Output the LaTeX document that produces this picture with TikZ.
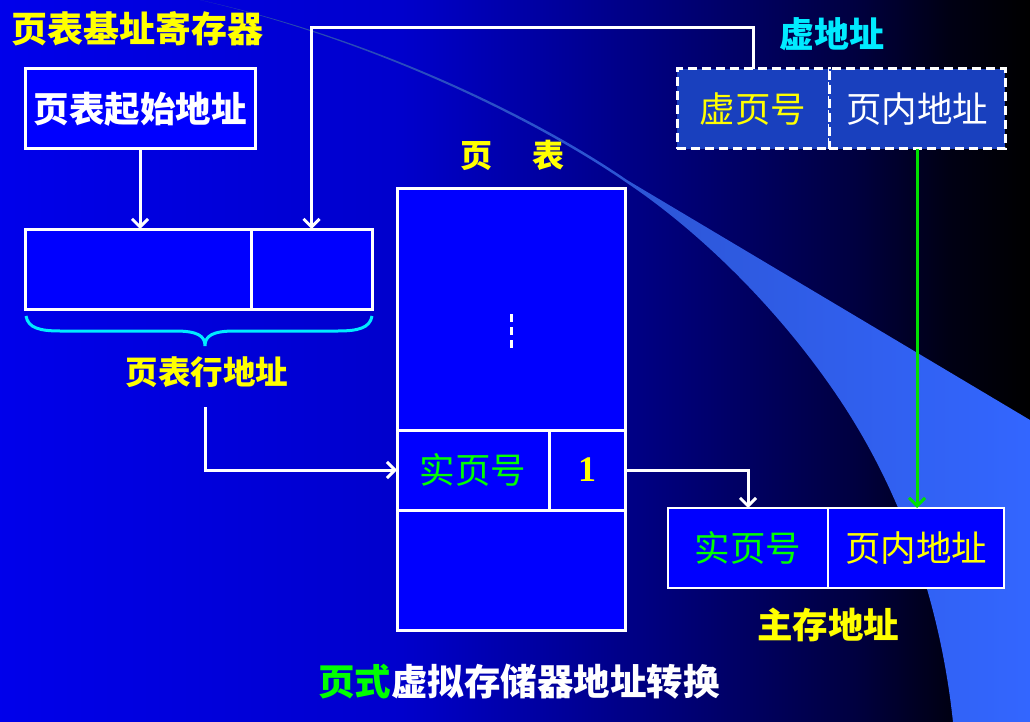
\documentclass[tikz,border=0pt]{standalone}
\usepackage{fontspec}
\newfontfamily\cjk{Noto Sans CJK SC}
\newfontfamily\serifn{Liberation Serif}
\usetikzlibrary{arrows.meta}
\definecolor{cellblue}{RGB}{0,0,255}
\definecolor{vblue}{RGB}{25,64,190}
\definecolor{ylw}{RGB}{255,255,0}
\definecolor{cyn}{RGB}{0,235,255}
\definecolor{grn}{RGB}{0,255,0}
\definecolor{grnline}{RGB}{0,225,0}
\definecolor{swA}{RGB}{38,68,168}
\definecolor{swB}{RGB}{51,102,255}
\pgfdeclarehorizontalshading{bgsh}{100bp}{rgb(0bp)=(0,0,0.92); rgb(25bp)=(0,0,0.92); rgb(44.5bp)=(0,0,0.8); rgb(56.5bp)=(0,0,0.5); rgb(66.5bp)=(0,0,0.25); rgb(71bp)=(0,0,0.08); rgb(75bp)=(0,0,0); rgb(100bp)=(0,0,0)}
\tikzset{
  boldtxt/.style={font=\cjk\bfseries\fontsize{#1}{#1}\selectfont, inner sep=0pt},
  thintxt/.style={font=\cjk\fontsize{35.5}{35.5}\selectfont},
  cell/.style={draw=white, line width=3pt, fill=cellblue, inner sep=0pt, outer sep=0pt},
  vcell/.style={draw=white, line width=3pt, dash pattern=on 9pt off 5pt, fill=vblue, inner sep=0pt, outer sep=0pt},
  mcell/.style={draw=white, line width=1.5pt, fill=cellblue, inner sep=0pt, outer sep=0pt},
  wline/.style={draw=white, line width=3pt},
  gline/.style={draw=grnline, line width=3pt},
  arw/.style={-{Straight Barb[length=8pt,width=16pt]}}
}
\begin{document}
\begin{tikzpicture}[x=1pt,y=-1pt]
\useasboundingbox (0,0) rectangle (1030,722);
\shade[shading=bgsh] (0,0) rectangle (1030,722);
\shade[left color=swA, right color=swB]
  (200,0) .. controls (380,40) and (540,120) .. (627,180)
  -- (1030,420) -- (1030,722) -- (953,722)
  .. controls (940,600) and (900,490) .. (840,400)
  .. controls (780,310) and (700,232) .. (627,183)
  .. controls (540,123) and (380,42) .. (200,0)
  -- cycle;

% page table base register
\node[boldtxt=36, text=ylw] (title) at (137,29) {页表基址寄存器};
\node[cell, minimum width=230, minimum height=80, boldtxt=35.5, text=white] (base) at (140,109) {页表起始地址};
\node[cell, minimum width=226, minimum height=80] (rowL) at (138,269) {};
\node[cell, minimum width=121, minimum height=80] (rowR) at (311.5,269) {};
\draw[cyn, line width=3pt] (26,316) .. controls (28,328) and (40,331) .. (60,331) -- (175,331)
  .. controls (198,331) and (205,336) .. (205,346)
  .. controls (205,336) and (212,331) .. (235,331) -- (338,331)
  .. controls (358,331) and (370,328) .. (372,316);
\node[boldtxt=32.5, text=ylw] (rowlbl) at (207,372) {页表行地址};

% page table
\node[boldtxt=32, text=ylw] (pttitle) at (512,155) {页\hspace{40pt}表};
\node[cell, minimum width=228, minimum height=241] (pt1) at (511,309.5) {};
\node[cell, minimum width=228, minimum height=120] (pt3) at (511,570) {};
\node[cell, minimum width=152, minimum height=80, thintxt, text=grn] (rpn) at (473,470) {实页号};
\node[cell, minimum width=76, minimum height=80, font=\serifn\bfseries\fontsize{36}{36}\selectfont, text=ylw] (bit) at (587,470) {1};
\draw[white, line width=3pt, dash pattern=on 8pt off 5pt] (511,314) -- (511,349);

% virtual address
\node[boldtxt=35, text=cyn] (vlbl) at (832,34) {虚地址};
\node[vcell, minimum width=152, minimum height=80, thintxt, text=ylw] (vpn) at (753,109) {虚页号};
\node[vcell, minimum width=176, minimum height=80, thintxt, text=white] (voff) at (917,109) {页内地址};

% main memory address
\node[mcell, minimum width=160, minimum height=80, thintxt, text=grn] (mrpn) at (748,548) {实页号};
\node[mcell, minimum width=176, minimum height=80, thintxt, text=ylw] (moff) at (916,548) {页内地址};
\node[boldtxt=35.5, text=ylw] (mlbl) at (828,625) {主存地址};

% caption
\node[boldtxt=36.5, text=white] (cap) at (519,682) {\textcolor{grn}{页式}虚拟存储器地址转换};

% connectors
\draw[wline, arw] (base.south) -- (base.south |- rowL.north);
\draw[wline, arw] (vpn.north) -- ++(0,-41) -| (rowR.north);
\coordinate (rl) at (205,407);
\draw[wline, arw] (rl) |- (rpn.west);
\draw[wline, arw] (bit.east) -| (mrpn.north);
\draw[gline, arw] (voff.south) -- (voff.south |- moff.north);
\end{tikzpicture}
\end{document}
